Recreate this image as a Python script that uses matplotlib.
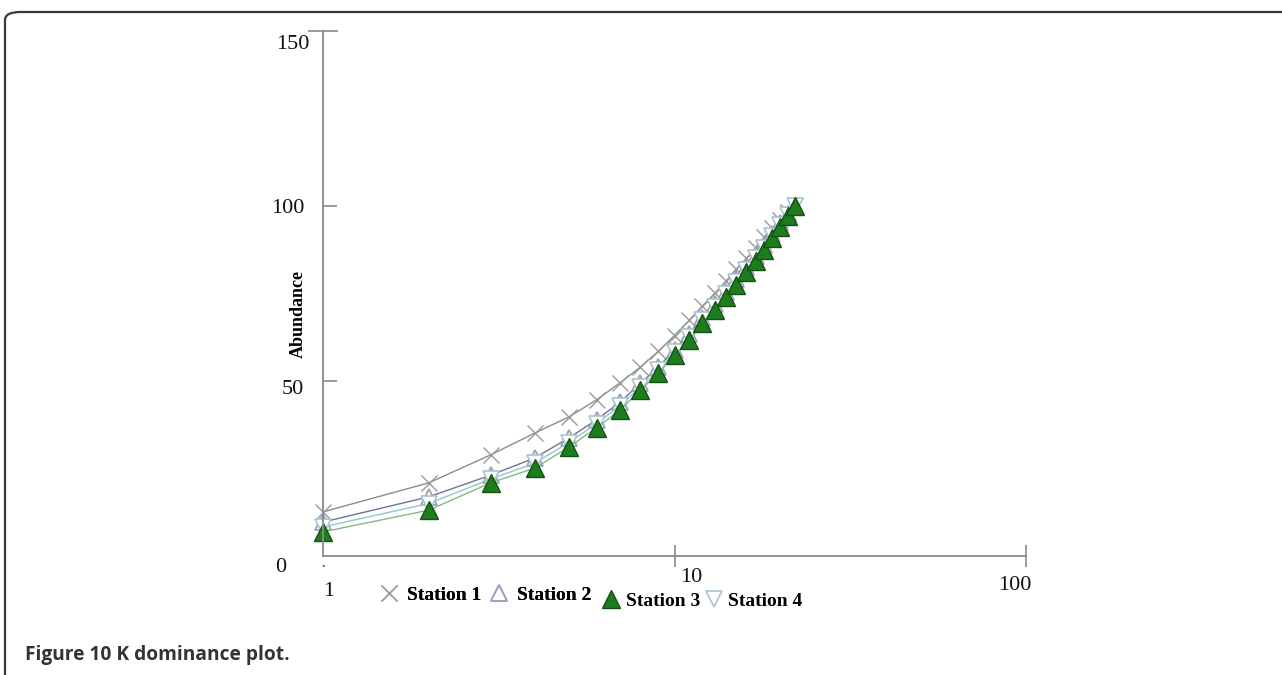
import matplotlib
matplotlib.use("Agg")
import matplotlib.pyplot as plt
from matplotlib.lines import Line2D
from matplotlib.patches import FancyBboxPatch
import matplotlib.transforms as mtransforms

# k-dominance curves, cumulative % abundance against species rank
ranks = list(range(1, 23))
station1 = [12.6, 20.9, 28.9, 35.1, 39.7, 44.6, 49.5, 54.0, 58.5, 63.0, 67.3, 71.4,
            75.0, 78.5, 82.0, 85.0, 88.0, 91.0, 93.6, 96.0, 98.2, 100.0]
station2 = [9.7, 16.9, 23.1, 28.0, 33.7, 38.9, 44.0, 49.3, 54.0, 59.0, 63.5, 68.0,
            72.0, 75.5, 79.0, 82.5, 85.7, 88.8, 92.0, 95.0, 97.8, 100.0]
station3 = [6.9, 13.1, 20.9, 25.1, 31.1, 36.6, 41.7, 47.4, 52.3, 57.4, 61.7, 66.6,
            70.3, 74.0, 77.5, 81.0, 84.3, 87.5, 90.8, 94.0, 97.0, 100.0]
station4 = [8.3, 15.0, 22.0, 26.5, 32.4, 37.8, 43.0, 48.3, 53.2, 58.2, 62.6, 67.3,
            71.1, 74.8, 78.2, 81.7, 85.0, 88.1, 91.4, 94.5, 97.4, 100.0]
names = ["Station 1", "Station 2", "Station 3", "Station 4"]

xticks = [1, 10, 100]
xticklabels = ["1", "10", "100"]
yticks = [0, 50, 100, 150]
yticklabels = ["0", "50", "100", "150"]

serif = ["Liberation Serif", "DejaVu Serif"]

fig = plt.figure(figsize=(12.82, 6.75), dpi=100)
W, H = 1282, 675
ax = fig.add_axes([323 / W, (H - 556) / H, (1026 - 323) / W, (556 - 31) / H])

styles = {
    "Station 1": dict(color="#8c8c8c", marker="x", ms=12, mew=1.0,
                      mec="#9a9a9a", mfc="none"),
    "Station 2": dict(color="#6f7396", marker="^", ms=12, mew=1.3,
                      mec="#9aa0b8", mfc="white"),
    "Station 4": dict(color="#8ecbc8", marker="v", ms=11, mew=1.2,
                      mec="#a8c4d0", mfc="white"),
    "Station 3": dict(color="#86b886", marker="^", ms=13, mew=1.0,
                      mec="#145214", mfc="#1d7d1d"),
}
series = {"Station 1": station1, "Station 2": station2,
          "Station 3": station3, "Station 4": station4}

for name in ["Station 1", "Station 2", "Station 4", "Station 3"]:
    st = styles[name]
    ax.plot(ranks, series[name], lw=1.0, clip_on=False, **st)

ax.set_xscale("log")
ax.set_xlim(1, 100)
ax.set_ylim(0, 150)

for s in ["top", "right"]:
    ax.spines[s].set_visible(False)
for s in ["left", "bottom"]:
    ax.spines[s].set_color("#8a8a8a")
    ax.spines[s].set_linewidth(1.3)

ax.set_xticks([10, 100])
ax.xaxis.set_minor_locator(matplotlib.ticker.NullLocator())
ax.tick_params(axis="x", direction="inout", length=16, width=1.2,
               color="#8a8a8a", labelbottom=False)
ax.set_yticks([50, 100, 150])
ax.tick_params(axis="y", direction="in", length=10, width=1.2,
               color="#8a8a8a", labelleft=False)
ax.yaxis.get_major_ticks()[-1].tick1line.set_marker("_")
ax.yaxis.get_major_ticks()[-1].tick1line.set_markersize(22)

# tick labels drawn by hand to follow the original offsets
xoff = {1: (6, -36), 10: (17, -21), 100: (-11, -30)}
for v, lab in zip(xticks, xticklabels):
    dx, dy = xoff[v]
    tr = mtransforms.offset_copy(ax.get_xaxis_transform(), fig=fig,
                                 x=dx, y=dy, units="dots")
    ax.text(v, 0, lab, transform=tr, ha="center", va="center",
            fontsize=16, family=serif, color="#111111")
# small dot above the "1" label
tr = mtransforms.offset_copy(ax.get_xaxis_transform(), fig=fig,
                             x=0, y=-12, units="dots")
ax.text(1, 0, "\u00b7", transform=tr, ha="center", va="center",
        fontsize=12, family=serif, color="#444444")

yoff = {0: (-42, -12), 50: (-19, -8), 100: (-19, -3), 150: (-14, -14)}
for v, lab in zip(yticks, yticklabels):
    dx, dy = yoff[v]
    tr = mtransforms.offset_copy(ax.get_yaxis_transform(), fig=fig,
                                 x=dx, y=dy, units="dots")
    ax.text(0, v, lab, transform=tr, ha="right" if v else "center",
            va="center", fontsize=16, family=serif, color="#111111")

fig.text(298 / W, 1 - 314 / H, "Abundance", rotation=90, ha="center",
         va="center", fontsize=13, fontweight="bold", family=serif)

def proxy(name):
    st = dict(styles[name])
    st.pop("color")
    return Line2D([], [], ls="", **st)

leg_font = dict(family=serif, weight="bold", size=14)
leg1 = fig.legend([proxy(n) for n in names[:2]], names[:2], loc="center left",
                  bbox_to_anchor=(362 / W, 1 - 595 / H), ncol=2, frameon=False,
                  prop=leg_font, handlelength=1.0, handletextpad=0.4,
                  columnspacing=0.45)
leg2 = fig.legend([proxy(n) for n in names[2:]], names[2:], loc="center left",
                  bbox_to_anchor=(584 / W, 1 - 601 / H), ncol=2, frameon=False,
                  prop=leg_font, handlelength=1.0, handletextpad=0.25,
                  columnspacing=0.2)
fig.add_artist(leg1)

fig.text(25 / W, 1 - 655 / H, "Figure 10 K dominance plot.", ha="left",
         va="center", fontsize=13.8, fontweight="bold",
         family=["Open Sans", "DejaVu Sans"], color="#333333")

frame = FancyBboxPatch((5 / W, -20 / H), 1.1, (H - 12 + 20) / H,
                       boxstyle="round,pad=0,rounding_size=0.012",
                       transform=fig.transFigure, fill=False, lw=1.6,
                       ec="#3a3a3a", clip_on=False)
fig.add_artist(frame)

fig.savefig("out.png", dpi=100)
